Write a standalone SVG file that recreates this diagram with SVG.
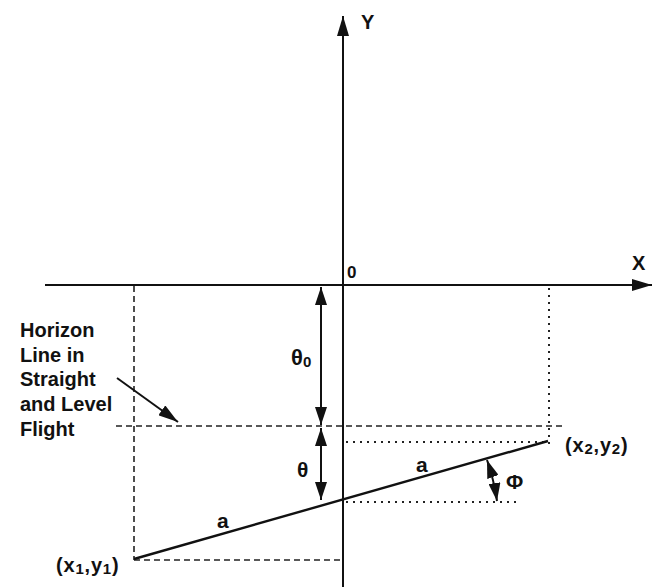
<svg xmlns="http://www.w3.org/2000/svg" width="654" height="587" viewBox="0 0 654 587">
<style>
text{font-family:"Liberation Sans",Arial,sans-serif;fill:#111;font-weight:bold}
.ax{stroke:#111;stroke-width:2;fill:none}
.dash{stroke:#222;stroke-width:1.6;stroke-dasharray:6 4;fill:none}
.dot{stroke:#222;stroke-width:2;stroke-dasharray:2 5;fill:none}
.dim{stroke:#111;stroke-width:2;fill:none}
</style>
<defs>
<marker id="ah" viewBox="0 0 20 12" refX="20" refY="6" markerWidth="20" markerHeight="12" markerUnits="userSpaceOnUse" orient="auto-start-reverse">
<path d="M0,0 L20,6 L0,12 Z" fill="#111"/>
</marker>
<marker id="ah2" viewBox="0 0 18 12" refX="18" refY="6" markerWidth="18" markerHeight="12" markerUnits="userSpaceOnUse" orient="auto-start-reverse">
<path d="M0,0 L18,6 L0,12 Z" fill="#111"/>
</marker>
</defs>
<g id="connectors">
<line class="ax" x1="45" y1="285" x2="652" y2="285" marker-end="url(#ah)"/>
<line class="ax" x1="343" y1="587" x2="343" y2="16" marker-end="url(#ah)"/>
<line class="dash" x1="134" y1="286" x2="134" y2="560"/>
<line class="dot" x1="549" y1="288" x2="549" y2="448"/>
<line class="dash" x1="116" y1="426" x2="565" y2="426"/>
<line class="dot" x1="346" y1="442" x2="547" y2="442"/>
<line class="dash" x1="134" y1="560" x2="343" y2="560"/>
<line class="dot" x1="346" y1="502" x2="520" y2="502"/>
<line x1="134" y1="559" x2="548" y2="441" stroke="#111" stroke-width="2.4"/>
<line class="dim" x1="321" y1="287" x2="321" y2="425" marker-start="url(#ah2)" marker-end="url(#ah2)"/>
<line class="dim" x1="321" y1="428" x2="321" y2="500" marker-start="url(#ah2)" marker-end="url(#ah2)"/>
<path class="dim" d="M487,460 Q494,480 497,501" marker-start="url(#ah2)" marker-end="url(#ah2)"/>
<line class="dim" x1="117" y1="378" x2="178" y2="422" marker-end="url(#ah)"/>
</g>
<g id="axis-labels">
<text x="361" y="29" font-size="20">Y</text>
<text x="632" y="270" font-size="20">X</text>
<text x="347" y="278" font-size="17">0</text>
</g>
<g id="horizon-label" font-size="20">
<text x="20" y="337">Horizon</text>
<text x="20" y="362">Line in</text>
<text x="20" y="386">Straight</text>
<text x="20" y="411">and Level</text>
<text x="20" y="436">Flight</text>
</g>
<g id="angle-labels">
<text x="291" y="365" font-size="22">θ<tspan font-size="15" dy="2">0</tspan></text>
<text x="297" y="477" font-size="21">θ</text>
<text x="506" y="489" font-size="21">Φ</text>
</g>
<g id="line-labels">
<text x="416" y="472" font-size="21">a</text>
<text x="217" y="528" font-size="21">a</text>
</g>
<g id="points" letter-spacing="0.8">
<text x="565" y="452" font-size="20">(x<tspan font-size="15" dy="2">2</tspan><tspan dy="-2">,y</tspan><tspan font-size="15" dy="2">2</tspan><tspan dy="-2">)</tspan></text>
<text x="56" y="572" font-size="20">(x<tspan font-size="15" dy="2">1</tspan><tspan dy="-2">,y</tspan><tspan font-size="15" dy="2">1</tspan><tspan dy="-2">)</tspan></text>
</g>
</svg>
